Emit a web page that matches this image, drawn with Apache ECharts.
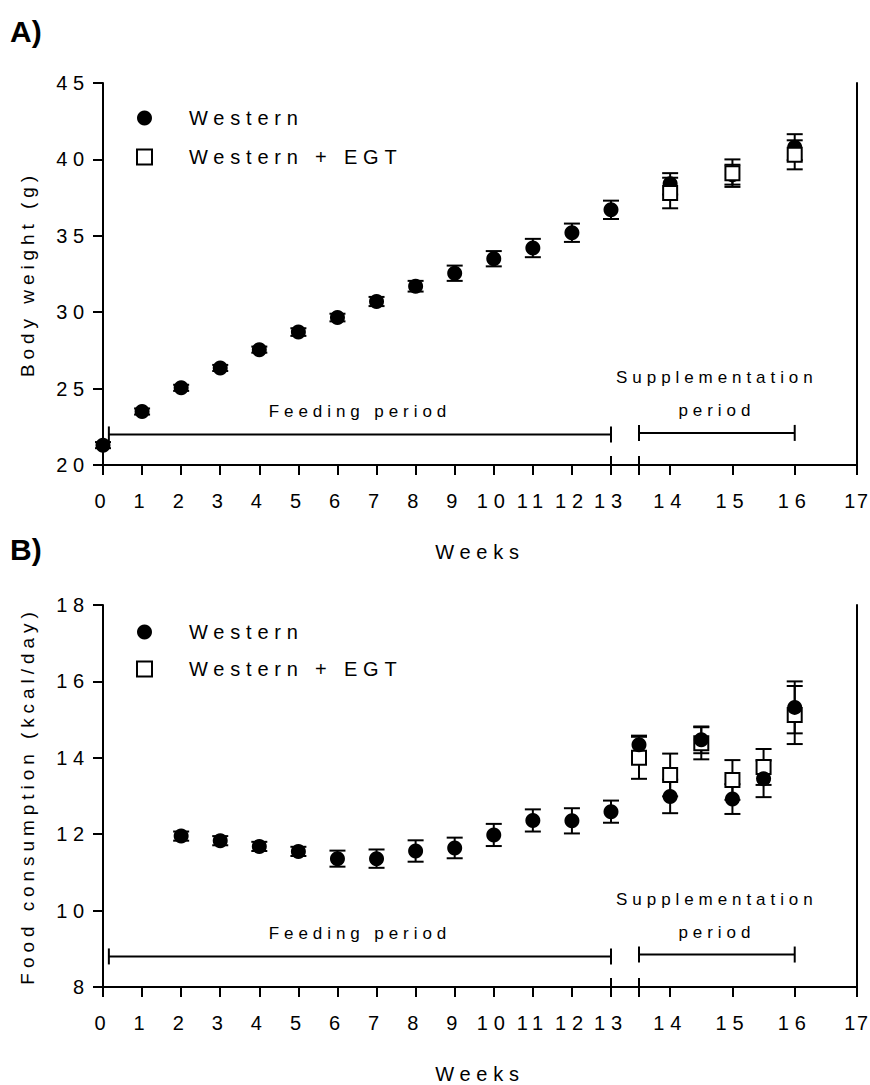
<!DOCTYPE html>
<html>
<head>
<meta charset="utf-8">
<script src="https://cdn.jsdelivr.net/npm/echarts@6/dist/echarts.min.js"></script>
<style>
  html, body { margin: 0; padding: 0; background: #fff; }
  #chart { width: 870px; height: 1085px; }
  /* wide tracking of the figure lettering */
  #chart text { letter-spacing: 0.29em; }
  /* vertical axis titles (19px) are tracked a little tighter */
  #chart text[style*="19px"] { letter-spacing: 0.26em; }
  /* last week label sits on the right edge of the figure */
  #chart text[style*="19.8px"] { letter-spacing: 0.09em; }
  /* panel letters stay tight */
  #chart text[style*="bold"] { letter-spacing: 0; }
</style>
</head>
<body>
<div id="chart"></div>
<script>
// ---------- Panel A: body weight (g) ----------
const weeksA = [0, 1, 2, 3, 4, 5, 6, 7, 8, 9, 10, 11, 12, 13];
const westernA = [21.3, 23.5, 25.05, 26.35, 27.55, 28.7, 29.65, 30.7, 31.7, 32.55, 33.5, 34.2, 35.2, 36.7];
const westernSemA = [0.2, 0.2, 0.2, 0.2, 0.2, 0.25, 0.25, 0.3, 0.35, 0.5, 0.5, 0.6, 0.6, 0.6];
const suppWeeksA = [14, 15, 16];
const westernSuppA = [38.4, 39.0, 40.8];
const westernSuppSemA = [0.7, 0.65, 0.85];
const egtSuppA = [37.8, 39.1, 40.3];
const egtSuppSemA = [1.0, 0.9, 0.95];
const yTicksA = [20, 25, 30, 35, 40, 45];

// ---------- Panel B: food consumption (kcal/day) ----------
const weeksB = [2, 3, 4, 5, 6, 7, 8, 9, 10, 11, 12, 13];
const westernB = [11.95, 11.83, 11.68, 11.55, 11.36, 11.36, 11.56, 11.64, 11.98, 12.36, 12.35, 12.59];
const westernSemB = [0.12, 0.12, 0.12, 0.12, 0.21, 0.24, 0.28, 0.27, 0.29, 0.29, 0.33, 0.29];
const suppWeeksB = [13.5, 14, 14.5, 15, 15.5, 16];
const westernSuppB = [14.34, 12.99, 14.47, 12.92, 13.45, 15.32];
const westernSuppSemB = [0.24, 0.44, 0.35, 0.39, 0.48, 0.68];
const egtSuppB = [14.0, 13.55, 14.38, 13.42, 13.76, 15.12];
const egtSuppSemB = [0.55, 0.56, 0.42, 0.52, 0.47, 0.76];
const yTicksB = [8, 10, 12, 14, 16, 18];

// ---------- shared x axis (broken between weeks 13 and 14) ----------
const xTicksFeeding = [0, 1, 2, 3, 4, 5, 6, 7, 8, 9, 10, 11, 12, 13];
const xTicksSupp = [14, 15, 16, 17];
const axisResume = 13.5;            // the second axis segment starts here
const feedingPeriod = [0.15, 13];
const supplementationPeriod = [13.5, 16];
const periodNames = ['Feeding period', 'Supplementation\nperiod'];
const seriesNames = ['Western', 'Western + EGT'];

const FONT = '"Liberation Sans", Arial, Helvetica, sans-serif';
const INK = '#000';

// plot frame geometry (px)
const PLOT_LEFT = 103, SEG1_RIGHT = 611, SEG2_LEFT = 639, PLOT_RIGHT = 857, PLOT_H = 382;

function points(xs, ys) { return xs.map((x, i) => [x, ys[i]]); }
function errorRows(xs, means, sems) { return xs.map((x, i) => [x, means[i] - sems[i], means[i] + sems[i]]); }

const lineStyle = { stroke: INK, lineWidth: 2 };

function renderErrorBar(params, api) {
  const x = api.value(0);
  const lo = api.coord([x, api.value(1)]);
  const hi = api.coord([x, api.value(2)]);
  const hw = 8;
  return {
    type: 'group',
    children: [
      { type: 'line', shape: { x1: lo[0], y1: lo[1], x2: hi[0], y2: hi[1] }, style: lineStyle },
      { type: 'line', shape: { x1: lo[0] - hw, y1: lo[1], x2: lo[0] + hw, y2: lo[1] }, style: lineStyle },
      { type: 'line', shape: { x1: hi[0] - hw, y1: hi[1], x2: hi[0] + hw, y2: hi[1] }, style: lineStyle }
    ]
  };
}

function bracketRenderer(label) {
  return function (params, api) {
    const y = api.value(2);
    const a = api.coord([api.value(0), y]);
    const b = api.coord([api.value(1), y]);
    const cap = 8;
    return {
      type: 'group',
      children: [
        { type: 'line', shape: { x1: a[0], y1: a[1], x2: b[0], y2: b[1] }, style: lineStyle },
        { type: 'line', shape: { x1: a[0], y1: a[1] - cap, x2: a[0], y2: a[1] + cap }, style: lineStyle },
        { type: 'line', shape: { x1: b[0], y1: b[1] - cap, x2: b[0], y2: b[1] + cap }, style: lineStyle },
        {
          type: 'text', x: (a[0] + b[0]) / 2, y: a[1] - 6,
          style: {
            text: label, fill: INK, fontSize: 17, fontFamily: FONT,
            align: 'center', verticalAlign: 'bottom', lineHeight: 33
          }
        }
      ]
    };
  };
}

function renderBreakMark(params, api) {
  const p = api.coord([api.value(0), api.value(1)]);
  return { type: 'line', shape: { x1: p[0], y1: p[1] - 9, x2: p[0], y2: p[1] + 10 }, style: lineStyle };
}

const panels = [
  {
    letter: 'A)', letterTop: 16, top: 83, yTicks: yTicksA, yName: 'Body weight (g)',
    legendTop: 108, legendGap: 19, bracketY: [22.0, 22.1], squaresOnTop: true,
    feeding: { x: weeksA, western: westernA, westernSem: westernSemA },
    supp: { x: suppWeeksA, western: westernSuppA, westernSem: westernSuppSemA, egt: egtSuppA, egtSem: egtSuppSemA }
  },
  {
    letter: 'B)', letterTop: 534, top: 605, yTicks: yTicksB, yName: 'Food consumption (kcal/day)',
    legendTop: 622, legendGap: 17, bracketY: [8.8, 8.85], squaresOnTop: false,
    feeding: { x: weeksB, western: westernB, westernSem: westernSemB },
    supp: { x: suppWeeksB, western: westernSuppB, westernSem: westernSuppSemB, egt: egtSuppB, egtSem: egtSuppSemB }
  }
];

const option = {
  animation: false,
  backgroundColor: '#fff',
  textStyle: { fontFamily: FONT, color: INK },
  title: [], legend: [], grid: [], xAxis: [], yAxis: [], series: []
};

const axisLineStyle = { show: true, lineStyle: { color: INK, width: 2 } };
const tickStyle = { show: true, inside: false, length: 10, lineStyle: { color: INK, width: 2 } };
const lastWeek = xTicksSupp[xTicksSupp.length - 1];

panels.forEach((p) => {
  const g0 = option.grid.length;
  const gL = g0, gR = g0 + 1, gF = g0 + 2;
  const xL = option.xAxis.length, xR = xL + 1;
  const yL = option.yAxis.length, yR = yL + 1;
  const yMin = p.yTicks[0], yMax = p.yTicks[p.yTicks.length - 1], yStep = p.yTicks[1] - p.yTicks[0];

  option.title.push({
    text: p.letter, left: 10, top: p.letterTop, padding: 0,
    textStyle: { fontFamily: FONT, fontSize: 30, fontWeight: 'bold', color: INK }
  });

  // the legend box is placed by its drawn extent, i.e. the left edge of the symbols
  option.legend.push({
    data: [
      { name: seriesNames[0], icon: 'circle' },
      { name: seriesNames[1], icon: 'path://M0,0H10V10H0Z' }
    ],
    orient: 'vertical', left: 136, top: p.legendTop, padding: 0,
    itemWidth: 79, itemHeight: 15, itemGap: p.legendGap, selectedMode: false, symbolKeepAspect: true,
    textStyle: { fontFamily: FONT, fontSize: 20, color: INK }
  });

  const gridBase = { top: p.top, height: PLOT_H, containLabel: false, outerBoundsMode: 'none' };
  option.grid.push(Object.assign({ left: PLOT_LEFT, width: SEG1_RIGHT - PLOT_LEFT }, gridBase));
  option.grid.push(Object.assign({ left: SEG2_LEFT, width: PLOT_RIGHT - SEG2_LEFT }, gridBase));
  option.grid.push(Object.assign({ left: PLOT_LEFT, width: PLOT_RIGHT - PLOT_LEFT }, gridBase));

  const labelStyle = { show: true, color: INK, fontSize: 20, fontFamily: FONT };

  // x axes: feeding segment, supplementation segment, frame top line, shared axis title
  option.xAxis.push({
    gridIndex: gL, type: 'value', position: 'bottom',
    min: xTicksFeeding[0], max: xTicksFeeding[xTicksFeeding.length - 1], interval: 1,
    axisLine: axisLineStyle, axisTick: tickStyle, splitLine: { show: false },
    axisLabel: Object.assign({ margin: 26 }, labelStyle)
  });
  option.xAxis.push({
    gridIndex: gR, type: 'value', position: 'bottom',
    min: axisResume, max: lastWeek, interval: 0.5,
    axisLine: axisLineStyle,
    axisTick: Object.assign({ customValues: xTicksSupp }, tickStyle),
    splitLine: { show: false },
    axisLabel: Object.assign({
      margin: 26, customValues: xTicksSupp,
      formatter: (v) => (v === lastWeek ? '{edge|' + v + '}' : String(v)),
      rich: { edge: { fontSize: 19.8, fontFamily: FONT, color: INK } }
    }, labelStyle)
  });
  option.xAxis.push({
    gridIndex: gF, type: 'value', position: 'top', min: 0, max: 1,
    axisLine: axisLineStyle, axisTick: { show: false }, axisLabel: { show: false }, splitLine: { show: false }
  });
  option.xAxis.push({
    gridIndex: gF, type: 'value', position: 'bottom', min: 0, max: 1,
    axisLine: { show: false }, axisTick: { show: false }, axisLabel: { show: false }, splitLine: { show: false },
    name: 'Weeks', nameLocation: 'middle', nameGap: 77,
    nameTextStyle: { fontFamily: FONT, fontSize: 20, color: INK }
  });

  // y axes: labelled left axis, right frame line, hidden frame axis
  option.yAxis.push({
    gridIndex: gL, type: 'value', position: 'left', min: yMin, max: yMax, interval: yStep,
    axisLine: axisLineStyle, axisTick: tickStyle, splitLine: { show: false },
    axisLabel: Object.assign({ margin: 13 }, labelStyle),
    name: p.yName, nameLocation: 'middle', nameGap: 66, nameRotate: 90,
    nameTextStyle: { fontFamily: FONT, fontSize: 19, color: INK }
  });
  option.yAxis.push({
    gridIndex: gR, type: 'value', position: 'right', min: yMin, max: yMax, interval: yStep,
    axisLine: axisLineStyle, axisTick: { show: false }, axisLabel: { show: false }, splitLine: { show: false }
  });
  option.yAxis.push({
    gridIndex: gF, type: 'value', min: 0, max: 1, show: false
  });

  const circleZ = p.squaresOnTop ? 3 : 4;
  const squareZ = p.squaresOnTop ? 4 : 3;

  const westernStyle = { color: INK, opacity: 1 };
  const egtStyle = { color: '#fff', borderColor: INK, borderWidth: 2, opacity: 1 };

  const errSeries = (name, xi, yi, rows) => ({
    type: 'custom', name, xAxisIndex: xi, yAxisIndex: yi, z: 2, clip: false, silent: true,
    renderItem: renderErrorBar, encode: { x: 0, y: [1, 2] }, data: rows
  });

  option.series.push(
    errSeries('Western SEM', xL, yL, errorRows(p.feeding.x, p.feeding.western, p.feeding.westernSem)),
    errSeries('Western SEM', xR, yR, errorRows(p.supp.x, p.supp.western, p.supp.westernSem)),
    errSeries('Western + EGT SEM', xR, yR, errorRows(p.supp.x, p.supp.egt, p.supp.egtSem)),
    {
      type: 'scatter', name: seriesNames[0], xAxisIndex: xL, yAxisIndex: yL, z: circleZ, silent: true,
      symbol: 'circle', symbolSize: 15, itemStyle: westernStyle,
      data: points(p.feeding.x, p.feeding.western)
    },
    {
      type: 'scatter', name: seriesNames[0], xAxisIndex: xR, yAxisIndex: yR, z: circleZ, silent: true,
      symbol: 'circle', symbolSize: 15, itemStyle: westernStyle,
      data: points(p.supp.x, p.supp.western)
    },
    {
      type: 'scatter', name: seriesNames[1], xAxisIndex: xR, yAxisIndex: yR, z: squareZ, silent: true,
      symbol: 'rect', symbolSize: 14, itemStyle: egtStyle,
      data: points(p.supp.x, p.supp.egt)
    },
    {
      type: 'custom', name: 'feeding period', xAxisIndex: xL, yAxisIndex: yL, z: 2, clip: false, silent: true,
      renderItem: bracketRenderer(periodNames[0]),
      data: [[feedingPeriod[0], feedingPeriod[1], p.bracketY[0]]]
    },
    {
      type: 'custom', name: 'supplementation period', xAxisIndex: xR, yAxisIndex: yR, z: 2, clip: false, silent: true,
      renderItem: bracketRenderer(periodNames[1]),
      data: [[supplementationPeriod[0], supplementationPeriod[1], p.bracketY[1]]]
    },
    {
      type: 'custom', name: 'axis break', xAxisIndex: xL, yAxisIndex: yL, z: 2, clip: false, silent: true,
      renderItem: renderBreakMark, data: [[xTicksFeeding[xTicksFeeding.length - 1], yMin]]
    },
    {
      type: 'custom', name: 'axis break', xAxisIndex: xR, yAxisIndex: yR, z: 2, clip: false, silent: true,
      renderItem: renderBreakMark, data: [[axisResume, yMin]]
    }
  );
});

const chart = echarts.init(document.getElementById('chart'), null, { renderer: 'svg', width: 870, height: 1085 });
chart.setOption(option);
</script>
</body>
</html>
